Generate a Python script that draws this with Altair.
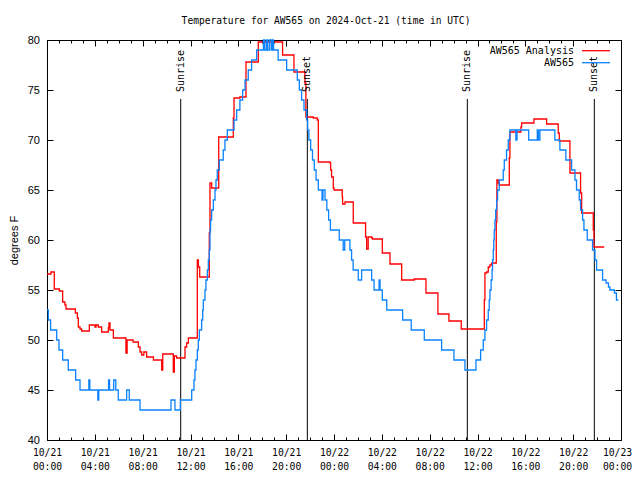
import altair as alt
import pandas as pd

# ---- data (hours since 2024-10-21 00:00 UTC, degrees F) ----
red_h = [0.00, 0.33, 0.61, 1.03, 1.31, 1.50, 1.59, 2.37, 2.54, 2.62, 2.76, 2.90, 3.54, 4.01, 4.10,
         4.29, 4.57, 5.13, 5.18, 5.27, 5.55, 6.60, 6.70, 7.20, 7.64, 7.78, 7.92, 8.10, 8.33, 8.90,
         9.59, 9.68, 10.56, 10.65, 10.84, 11.54, 11.68, 11.82, 12.57, 12.66, 12.77, 13.57, 13.63,
         13.77, 14.36, 15.58, 15.64, 16.13, 16.64, 17.67, 19.70, 20.65, 21.57, 21.65, 22.27, 22.60,
         22.69, 23.67, 23.72, 23.80, 23.94, 24.00, 24.69, 24.72, 24.92, 25.61, 26.64, 26.73, 26.86,
         27.15, 27.23, 28.04, 28.68, 29.66, 30.71, 31.69, 32.69, 33.61, 34.64, 36.57, 36.62, 36.76,
         36.90, 37.04, 37.18, 37.57, 37.62, 37.74, 37.82, 38.66, 38.71, 39.63, 39.69, 40.72, 41.78,
         42.75, 42.84, 43.73, 44.62, 44.71, 45.68, 45.74, 46.60]
red_t = [56.6, 56.8, 55.1, 54.9, 53.8, 53.5, 53.1, 52.7, 52.2, 51.3, 51.1, 50.9, 51.5, 51.3, 51.5,
         51.3, 50.8, 51.2, 51.7, 51.0, 50.2, 48.7, 50.0, 49.8, 49.3, 48.8, 48.5, 48.8, 48.3, 48.0,
         47.0, 48.6, 46.8, 48.4, 48.2, 49.3, 49.7, 50.2, 58.0, 57.3, 56.3, 60.7, 65.7,
         65.2, 70.3, 72.2, 74.2, 74.3, 77.8, 79.8, 78.5, 76.8, 75.7, 72.3, 72.2, 72.0,
         67.8, 67.7, 67.0, 66.3, 65.2, 65.0, 64.3, 63.6, 63.8, 61.7, 60.3, 59.1, 60.3,
         60.2, 60.1, 58.7, 57.6, 56.0, 56.1, 54.7, 52.6, 51.9, 51.1, 54.0, 56.7, 56.8,
         57.3, 57.5, 57.7, 61.8, 66.0, 65.7, 65.5, 68.2, 70.8, 71.3, 71.7, 72.1, 71.6,
         70.7, 69.9, 66.7, 64.7, 62.7, 61.0, 59.3, 59.3]

blue_h = [0.00, 0.11, 0.30, 0.81, 1.00, 1.31, 1.78, 2.40, 2.76, 3.50, 3.58, 4.25, 4.33, 5.15, 5.23,
          5.58, 5.75, 5.96, 6.66, 6.88, 7.78, 10.37, 10.70, 11.15, 12.10, 12.29, 12.37, 12.46, 12.57,
          12.65, 12.74, 12.93, 13.02, 13.07, 13.21, 13.29, 13.41, 13.49, 13.57, 13.63, 13.68, 13.77,
          13.91, 14.05, 14.13, 14.24, 14.41, 14.74, 14.88, 15.08, 15.64, 15.86, 16.13, 16.36, 16.56,
          16.83, 17.11, 17.53, 18.10, 18.20, 18.35, 18.45, 18.60, 18.75, 18.85, 18.95, 19.33, 20.04,
          20.93, 21.10, 21.29, 21.49, 21.71, 21.80, 21.90, 22.05, 22.20, 22.35, 22.50, 22.69, 23.00,
          23.08, 23.25, 23.40, 23.55, 23.70, 24.44, 24.77, 24.90, 25.33, 25.47, 25.60, 26.03, 26.31,
          27.15, 27.35, 27.77, 27.85, 28.04, 28.41, 29.74, 30.46, 31.55, 33.00, 34.03, 34.95, 35.87,
          36.26, 36.48, 36.62, 36.76, 36.90, 36.98, 37.04, 37.14, 37.22, 37.26, 37.32, 37.36, 37.40,
          37.46, 37.52, 37.60, 37.68, 37.82, 38.15, 38.24, 38.43, 38.57, 38.71, 39.21, 39.30, 40.28,
          41.00, 41.10, 41.22, 42.47, 42.89, 43.39, 43.87, 44.15, 44.28, 44.51, 44.62, 44.79, 44.90,
          45.18, 45.62, 45.82, 45.96, 46.46, 46.75, 46.95, 47.07, 47.45, 47.62, 47.78]
blue_t = [53, 52, 51, 50, 49, 48, 47, 46, 45, 46, 45, 44, 45, 46, 45,
          46, 45, 44, 45, 44, 43, 44, 43, 44, 45, 46, 47, 48, 49,
          50, 51, 52, 53, 54, 55, 56, 57, 58, 59, 61, 62, 63,
          64, 65, 66, 67, 68, 69, 70, 71, 72, 73, 74, 75, 76,
          77, 78, 79, 80, 79, 80, 79, 80, 79, 80, 79, 78, 77,
          76, 75, 74, 73, 72, 71, 70, 69, 68, 67, 66, 65, 64,
          65, 64, 63, 62, 61, 60, 59, 60, 59, 58, 57, 56, 57,
          56, 55, 56, 55, 54, 53, 52, 51, 50, 49, 48, 47, 48,
          49, 50, 51, 52, 53, 54, 55, 56, 57, 58, 59, 60, 61,
          62, 63, 64, 65, 66, 67, 68, 69, 70, 71, 70, 71, 70,
          71, 70, 71, 70, 69, 68, 67, 66, 65, 64, 63, 62, 61,
          60, 59, 58, 57, 56, 55.7, 55.3, 55, 54.7, 54, 54]

sun_h = [11.18, 21.77, 35.15, 45.77]
sun_label = ["Sunrise", "Sunset", "Sunrise", "Sunset"]

major_ticks = list(range(0, 49, 4))
minor_ticks = list(range(0, 49))
y_ticks = list(range(40, 81, 5))

series_names = ["AW565 Analysis", "AW565"]
series_colors = ["#ff0000", "#0a82ff"]

title_text = "Temperature for AW565 on 2024-Oct-21 (time in UTC)"
y_title = "degrees F"

# ---- styling ----
W, H = 574, 400
MONO = "DejaVu Sans Mono"
SANS = "Liberation Sans"
LW = 1.3

xscale = alt.Scale(domain=[0, 48], nice=False, zero=False)
yscale = alt.Scale(domain=[40, 80], nice=False, zero=False)

label_expr = ("['10/' + (21 + floor(datum.value / 24)), "
              "(datum.value % 24 < 10 ? '0' : '') + (datum.value % 24) + ':00']")

red_df = pd.DataFrame({"h": red_h, "t": red_t})
blue_df = pd.DataFrame({"h": blue_h, "t": blue_t})
sun_df = pd.DataFrame({"h": sun_h, "label": sun_label})

axis_common = dict(grid=False, domainColor="black", tickColor="black", domainWidth=1, tickWidth=1)

# bottom axis with labels + major ticks (inward); last label nudged left to stay on canvas
x_bottom = alt.Axis(orient="bottom", values=major_ticks, labelExpr=label_expr,
                    tickSize=alt.expr("-6"), labelPadding=13, labelFont=MONO, labelFontSize=9.7,
                    labelLineHeight=14, labelColor="black", labelAlign="center", labelFlush=False,
                    labelOffset=alt.expr("datum.value >= 48 ? -4 : 0"),
                    labelOverlap=False, title=None, **axis_common)
x_bottom_minor = alt.Axis(orient="bottom", values=minor_ticks, labels=False, domain=False,
                          tickSize=alt.expr("-3"), title=None, **axis_common)
x_top = alt.Axis(orient="top", values=major_ticks, labels=False, tickSize=alt.expr("-6"),
                 title=None, **axis_common)
x_top_minor = alt.Axis(orient="top", values=minor_ticks, labels=False, domain=False,
                       tickSize=alt.expr("-3"), title=None, **axis_common)
y_left = alt.Axis(orient="left", values=y_ticks, tickSize=alt.expr("-6"), labelPadding=13.5,
                  labelFont=SANS, labelFontSize=11, labelColor="black", labelFlush=False,
                  title=y_title, titleFont=SANS, titleFontSize=11, titleFontWeight="normal",
                  titleColor="black", titleX=-33, titleY=200, titleAngle=270,
                  titleAlign="center", titleBaseline="middle", **axis_common)
y_right = alt.Axis(orient="right", values=y_ticks, labels=False, tickSize=alt.expr("-6"),
                   title=None, **axis_common)

rules = alt.Chart(sun_df).mark_rule(color="black", strokeWidth=1).encode(
    x=alt.X("h:Q", scale=xscale, axis=x_top),
    y=alt.value(59),
    y2=alt.value(H),
)
sun_text = alt.Chart(sun_df).mark_text(angle=270, align="left", baseline="middle",
                                       font=MONO, fontSize=10, color="black").encode(
    x=alt.X("h:Q", scale=xscale, axis=x_top_minor),
    y=alt.value(52),
    text="label:N",
)
red = alt.Chart(red_df).mark_line(color=series_colors[0], strokeWidth=LW,
                                  interpolate="step-after").encode(
    x=alt.X("h:Q", scale=xscale, axis=x_bottom_minor),
    y=alt.Y("t:Q", scale=yscale, axis=y_right),
)
blue = alt.Chart(blue_df).mark_line(color=series_colors[1], strokeWidth=LW,
                                    interpolate="step-after").encode(
    x=alt.X("h:Q", scale=xscale, axis=x_bottom),
    y=alt.Y("t:Q", scale=yscale, axis=y_left),
)

legend_layers = []
for i, (name, col) in enumerate(zip(series_names, series_colors)):
    ly = 10.7 + 12 * i
    legend_layers.append(
        alt.Chart(pd.DataFrame({"name": [name]})).mark_text(
            align="right", baseline="middle", font=MONO, fontSize=10, color="black"
        ).encode(text="name:N", x=alt.value(527), y=alt.value(ly))
    )
    legend_layers.append(
        alt.Chart(pd.DataFrame({"name": [name]})).mark_rule(color=col, strokeWidth=LW).encode(
            x=alt.value(535), x2=alt.value(563), y=alt.value(ly)
        )
    )

chart = alt.layer(rules, red, blue, sun_text, *legend_layers).resolve_axis(
    x="independent", y="independent"
).properties(
    width=W, height=H,
    title=alt.TitleParams(title_text, font=MONO, fontSize=9.6, fontWeight="normal",
                          color="black", anchor="middle", dx=-8, offset=8),
    autosize=alt.AutoSizeParams(type="none"),
    padding={"left": 39, "top": 32, "right": 11, "bottom": 32},
).configure_view(stroke=None).configure(background="white")

chart.save("out.html", embed_options={"renderer": "svg", "actions": False})
